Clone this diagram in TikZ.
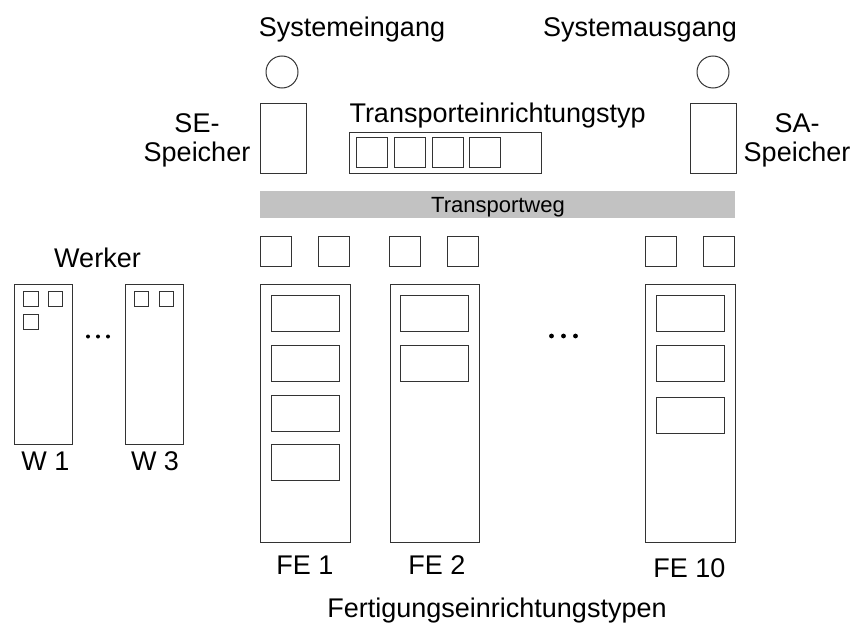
\documentclass[tikz,border=0pt]{standalone}
\usepackage{fontspec}
\setmainfont{Liberation Sans}
\definecolor{linegray}{gray}{0.2}
\definecolor{waygray}{gray}{0.76}

\begin{document}
\begin{tikzpicture}[x=1pt, y=-1pt, line width=1pt,
    box/.style={draw=linegray, inner sep=0pt},
    slot/.style={box, minimum width=68, minimum height=36},
    port/.style={box, minimum width=31, minimum height=30},
    tool/.style={box, minimum width=14.5, minimum height=14.5},
    txt/.style={inner sep=0pt, anchor=base, font=\fontsize{27}{32}\selectfont}]
    \useasboundingbox (0, 0) rectangle (853, 626);

    % entry and exit with their buffers
    \node[txt] (eintext) at (352, 37) {Systemeingang};
    \node[txt] (austext) at (640, 37) {Systemausgang};
    \node[box, circle, minimum size=32] (quelle) at (282, 72) {};
    \node[box, circle, minimum size=32] (senke) at (713, 72) {};
    \node[box, minimum width=46, minimum height=70] (sespeicher) at (283, 138.5) {};
    \node[box, minimum width=46, minimum height=70] (saspeicher) at (713, 138.5) {};
    \node[txt] (setext1) at (197, 132) {SE-};
    \node[txt] (setext2) at (197, 161) {Speicher};
    \node[txt] (satext1) at (797, 132) {SA-};
    \node[txt] (satext2) at (797, 161) {Speicher};

    % transport unit type
    \node[txt, anchor=base west] (tetext) at (349, 122) {Transporteinrichtungstyp};
    \node[box, minimum width=192, minimum height=41] (te) at (445.5, 153) {};
    \node[port] (te1) at (372, 152.5) {};
    \node[port] (te2) at (410, 152.5) {};
    \node[port] (te3) at (447.5, 152.5) {};
    \node[port] (te4) at (485, 152.5) {};

    % path
    \node[fill=waygray, inner sep=0pt, minimum width=475, minimum height=27] (weg) at (497.5, 204.5) {};
    \node[txt, font=\fontsize{22}{26}\selectfont] (wegtext) at (498, 212.5) {Transportweg};

    % workers
    \node[txt] (werker) at (97.5, 267) {Werker};
    \node[box, minimum width=58, minimum height=160] (w1) at (43.5, 364) {};
    \node[box, minimum width=58, minimum height=160] (w3) at (154, 364) {};
    \node[tool] (w1a) at (31, 299) {};
    \node[tool] (w1b) at (55.5, 299) {};
    \node[tool] (w1c) at (31, 322) {};
    \node[tool] (w3a) at (141.5, 299) {};
    \node[tool] (w3b) at (166.5, 299) {};
    \fill (88, 336.5) circle (2) (98, 336.5) circle (2) (108, 336.5) circle (2);
    \node[txt] (w1text) at (45.5, 470.5) {W 1};
    \node[txt] (w3text) at (155, 470.5) {W 3};

    % machines
    \node[port] (fe1a) at (275.5, 251.5) {};
    \node[port] (fe1b) at (334, 251.5) {};
    \node[box, minimum width=90, minimum height=258] (fe1) at (305, 413) {};
    \node[slot] (fe1s1) at (305.5, 313.5) {};
    \node[slot] (fe1s2) at (305.5, 363.5) {};
    \node[slot] (fe1s3) at (305.5, 413) {};
    \node[slot] (fe1s4) at (305.5, 462) {};
    \node[txt] (fe1text) at (305, 574) {FE 1};

    \node[port] (fe2a) at (405, 251.5) {};
    \node[port] (fe2b) at (463, 251.5) {};
    \node[box, minimum width=89, minimum height=258] (fe2) at (434.5, 413) {};
    \node[slot] (fe2s1) at (434, 313.5) {};
    \node[slot] (fe2s2) at (434, 363.5) {};
    \node[txt] (fe2text) at (437, 574) {FE 2};

    \fill (551.5, 336) circle (2.4) (563.5, 336) circle (2.4) (575.5, 336) circle (2.4);

    \node[port] (fe10a) at (661, 251.5) {};
    \node[port] (fe10b) at (719, 251.5) {};
    \node[box, minimum width=90, minimum height=258] (fe10) at (690.3, 413) {};
    \node[slot] (fe10s1) at (690.5, 313.5) {};
    \node[slot] (fe10s2) at (690.5, 363.5) {};
    \node[slot] (fe10s3) at (690.5, 415) {};
    \node[txt] (fe10text) at (689.5, 577) {FE 10};

    \node[txt] (fetypen) at (497, 617) {Fertigungseinrichtungstypen};
\end{tikzpicture}
\end{document}
